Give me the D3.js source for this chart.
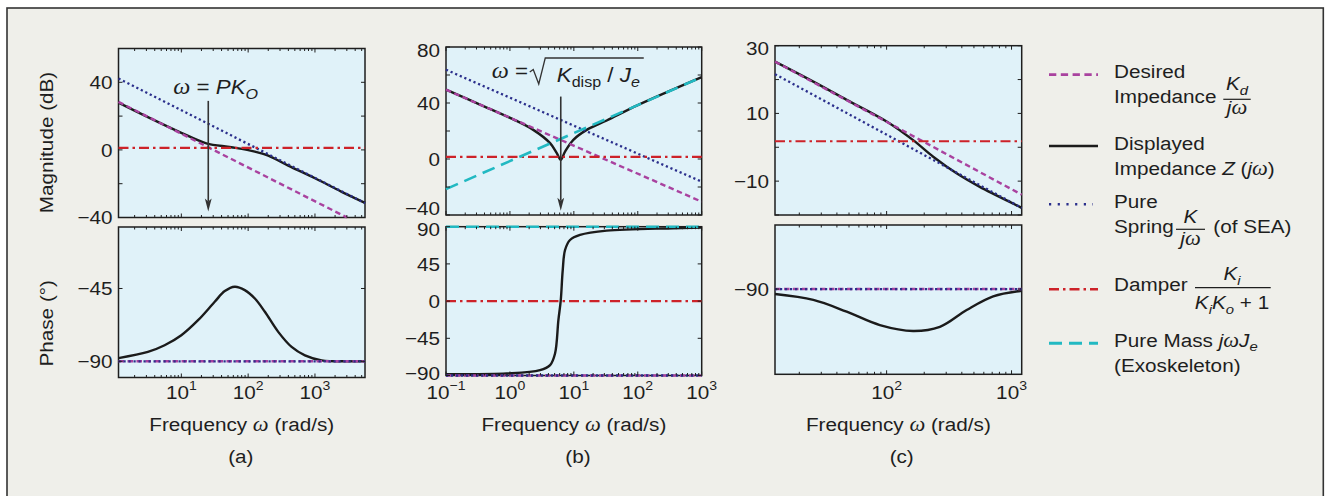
<!DOCTYPE html>
<html>
<head>
<meta charset="utf-8">
<script src="https://cdn.jsdelivr.net/npm/d3@7"></script>
<style>
  body { margin: 0; background: #fff; }
  svg { display: block; font-family: "Liberation Sans", Arial, Helvetica, sans-serif; }
</style>
</head>
<body>
<svg id="chart"></svg>
<script>
// Values: [frequency (rad/s), magnitude (dB) or phase (deg)]

// (a)
const aMagDesired   = [[1.147, 28.4], [3020, -40]];
const aMagDisplayed = [[1.147, 28.0], [3.16, 19.4], [10, 10.1], [23.7, 3.9], [56, 1.6], [126, -1.0],
                       [200, -3.4], [398, -9.3], [1000, -16.8], [2510, -24.8], [5610, -31.3]];
const aMagSpring    = [[1.147, 42.3], [5610, -31.5]];
const aMagDamper    = [[1.147, 1.2], [5610, 1.2]];
const aPhDisplayed  = [[1.147, -88.0], [3.16, -84.2], [5.62, -80.1], [10, -73.9], [17.8, -64.6], [31.6, -53.2],
                       [44.7, -46.6], [63.1, -43.9], [89.1, -46.0], [126, -51.2], [178, -59.4], [282, -71.8],
                       [447, -81.1], [708, -86.3], [1259, -89.4], [3162, -90], [5610, -90]];
const aPhDesired    = [[1.147, -90], [5610, -90]];
const aPhSpring     = [[1.147, -90], [5610, -90]];
const aPhDamper     = [[1.147, 0], [5610, 0]];
const aMagTicks = [-40, -20, 0, 20, 40, 60], aMagLabels = [-40, 0, 40];
const aPhTicks = [-90, -45], aPhLabels = [-90, -45];
const aFreqLabels = [10, 100, 1000];
const annotA = [25.3, 29, -36.5];   // ω = PK_o, arrow from / to (dB)

// (b)
const bMagDesired   = [[0.1, 49.5], [1000, -30.5]];
const bMagDisplayed = [[0.1, 49.5], [0.34, 38.9], [1.13, 28.3], [2.32, 20.8], [4.25, 11.3], [5.41, 4.2],
                       [6.24, -0.5], [7.28, 5.3], [9.82, 13.7], [15.9, 20.8], [32.7, 27.5], [100, 38.5], [1000, 58.5]];
const bMagSpring    = [[0.1, 63.8], [1000, -16.2]];
const bMagDamper    = [[0.1, 1.5], [1000, 1.5]];
const bMagMass      = [[0.1, -21.5], [1000, 58.5]];
const bPhDisplayed  = [[0.1, -88.4], [0.89, -87.6], [2.95, -83.6], [4.25, -77.5], [5.08, -63.4], [5.73, -23],
                       [6.24, 1], [6.70, 37.5], [7.28, 61.8], [8.71, 73.9], [12.5, 80], [32.7, 85.2], [363, 88.1], [1000, 89]];
const bPhDesired    = [[0.1, -90], [1000, -90]];
const bPhSpring     = [[0.1, -90], [1000, -90]];
const bPhDamper     = [[0.1, 0], [1000, 0]];
const bPhMass       = [[0.1, 90], [1000, 90]];
const bMagTicks = [-40, -20, 0, 20, 40, 60, 80], bMagLabels = [-40, 0, 40, 80];
const bPhTicks = [-90, -45, 0, 45, 90], bPhLabels = [-90, -45, 0, 45, 90];
const bFreqLabels = [0.1, 1, 10, 100, 1000];
const annotB = [6.24, 44.6, -36.9]; // ω = sqrt(Kdisp/Je)

// (c)
const cMagDesired   = [[12.78, 25.3], [1206, -14.0]];
const cMagDisplayed = [[12.78, 25.3], [25.9, 19.4], [47.9, 14.0], [100, 7.6], [163, 2.1], [236, -2.8],
                       [363, -7.7], [557, -11.7], [1164, -17.6], [1206, -17.9]];
const cMagSpring    = [[12.78, 21.6], [1206, -17.9]];
const cMagDamper    = [[12.78, 1.8], [1206, 1.8]];
const cPhDisplayed  = [[12.78, -91.8], [25.9, -93.9], [47.9, -98.1], [88.3, -102.9], [163, -105], [267, -103.5],
                       [437, -97.5], [713, -92.6], [1206, -90.6]];
const cPhDesired    = [[12.78, -90], [1206, -90]];
const cPhSpring     = [[12.78, -90], [1206, -90]];
const cPhDamper     = [[12.78, 0], [1206, 0]];
const cMagTicks = [-20, -10, 0, 10, 20, 30], cMagLabels = [-10, 10, 30];
const cPhTicks = [-90], cPhLabels = [-90];
const cFreqLabels = [100, 1000];

// line styles
const styles = {
  desired:   { color: "#a9429f", width: 2.4, dash: "5.5,3.5" },
  displayed: { color: "#1b1b1b", width: 2.4, dash: null },
  spring:    { color: "#2b2f8c", width: 2.3, dash: "2.2,2.8" },
  damper:    { color: "#cd2229", width: 2.1, dash: "10,4,2.5,4" },
  mass:      { color: "#22b9c2", width: 2.6, dash: "13,7" }
};

const W = 1334, H = 496;
const AXBG = "#e0f2f9", INK = "#1e1e1e";
const FS = 19, SX = 1.09;   // the original type is set a little wide

const svg = d3.select("#chart").attr("width", W).attr("height", H);
svg.append("rect").attr("width", W).attr("height", H).attr("fill", "#fff");
svg.append("rect").attr("x", 7).attr("y", 8).attr("width", 1316.3).attr("height", 500)
   .attr("fill", "#efefea").attr("stroke", "#333").attr("stroke-width", 1.6);

// text helpers
function label(x, y, size, rot) {
  const g = svg.append("g")
    .attr("transform", `translate(${x},${y})` + (rot ? ` rotate(${rot})` : "") + ` scale(${SX},1)`);
  return g.append("text").attr("font-size", size || FS).attr("fill", INK);
}

function rich(t, parts) {
  const base = +t.attr("font-size");
  let shift = 0;
  parts.forEach(([s, k]) => {
    const sp = t.append("tspan").text(s);
    let target = 0;
    if (k === "sub")  { target = base * 0.25; sp.attr("font-size", base * 0.72).attr("font-style", "italic"); }
    if (k === "subr") { target = base * 0.25; sp.attr("font-size", base * 0.72); }
    if (k === "sup")  { target = -base * 0.45; sp.attr("font-size", base * 0.68); }
    if (k === "i") sp.attr("font-style", "italic");
    if (k === "w") sp.attr("font-family", "'Liberation Serif', 'Times New Roman', serif")
                     .attr("font-style", "italic").attr("font-size", base * 1.08);
    if (target !== shift) { sp.attr("dy", target - shift); shift = target; }
  });
  return t;
}

const fmt = v => (v < 0 ? "\u2212" + Math.abs(v) : String(v));
const isDecade = v => Math.abs(Math.log10(v) - Math.round(Math.log10(v))) < 1e-6;

let clipN = 0;
function drawAxes(x, cfg, freqLabels) {
  const y = d3.scaleLinear().domain(cfg.dom).range(cfg.rng);
  const [x0, x1] = x.range(), [yb, yt] = cfg.rng;
  const g = svg.append("g");
  g.append("rect").attr("x", x0).attr("y", yt).attr("width", x1 - x0).attr("height", yb - yt).attr("fill", AXBG);
  g.append("rect").attr("x", x0).attr("y", yt).attr("width", x1 - x0).attr("height", yb - yt)
   .attr("fill", "none").attr("stroke", INK).attr("stroke-width", 1.5);

  const cid = "clip" + (clipN++);
  svg.append("clipPath").attr("id", cid).append("rect")
     .attr("x", x0 - 2).attr("y", yt - 2).attr("width", x1 - x0 + 4).attr("height", yb - yt + 4);

  const line = d3.line().x(d => x(d[0])).y(d => y(d[1])).curve(d3.curveCatmullRom.alpha(0.5));
  const sg = g.append("g").attr("clip-path", `url(#${cid})`);
  cfg.series.forEach(([key, data]) => {
    const s = styles[key];
    sg.append("path").attr("d", line(data)).attr("fill", "none")
      .attr("stroke", s.color).attr("stroke-width", s.width)
      .attr("stroke-dasharray", s.dash);
  });

  // ticks, inside on all four sides
  const tk = g.append("g").attr("stroke", INK).attr("stroke-width", 1);
  cfg.ticks.forEach(v => {
    const yy = y(v);
    tk.append("line").attr("x1", x0).attr("x2", x0 + 4).attr("y1", yy).attr("y2", yy);
    tk.append("line").attr("x1", x1).attr("x2", x1 - 4).attr("y1", yy).attr("y2", yy);
  });
  x.ticks().forEach(v => {
    const xx = x(v), len = isDecade(v) ? 4 : 2.5;
    tk.append("line").attr("x1", xx).attr("x2", xx).attr("y1", yt).attr("y2", yt + len);
    tk.append("line").attr("x1", xx).attr("x2", xx).attr("y1", yb).attr("y2", yb - len);
  });

  const nudge = cfg.nudge || {};
  cfg.labels.forEach(v => label(x0 - 6, y(v) + 6.8 + (nudge[v] || 0)).attr("text-anchor", "end").text(fmt(v)));

  if (freqLabels) {
    freqLabels.forEach(v => {
      rich(label(x(v), 399).attr("text-anchor", "middle"),
           [["10", ""], [fmt(Math.round(Math.log10(v))), "sup"]]);
    });
  }
  return y;
}

function arrow(x, y1, y2) {
  svg.append("line").attr("x1", x).attr("x2", x).attr("y1", y1).attr("y2", y2 - 10)
     .attr("stroke", "#333").attr("stroke-width", 1.6);
  svg.append("path").attr("d", `M${x},${y2} L${x - 3.4},${y2 - 13} L${x},${y2 - 10} L${x + 3.4},${y2 - 13} Z`)
     .attr("fill", "#333");
}

const panels = [
  { w: [1.147, 5610], xr: [118.5, 365], tagX: 240.8, tag: "(a)", freq: aFreqLabels,
    mag: { dom: [-40, 60], rng: [217.5, 48.5], ticks: aMagTicks, labels: aMagLabels,
           series: [["displayed", aMagDisplayed], ["desired", aMagDesired], ["spring", aMagSpring], ["damper", aMagDamper]] },
    ph:  { dom: [-100, -7], rng: [377.5, 227], ticks: aPhTicks, labels: aPhLabels,
           series: [["displayed", aPhDisplayed], ["desired", aPhDesired], ["spring", aPhSpring], ["damper", aPhDamper]] } },
  { w: [0.1, 1000], xr: [446, 701.7], tagX: 578, tag: "(b)", freq: bFreqLabels,
    mag: { dom: [-40, 80], rng: [215, 47], ticks: bMagTicks, labels: bMagLabels, nudge: { 80: 3.5, "-40": -6.5 },
           series: [["displayed", bMagDisplayed], ["desired", bMagDesired], ["spring", bMagSpring], ["damper", bMagDamper], ["mass", bMagMass]] },
    ph:  { dom: [-90, 90], rng: [375.5, 226.7], ticks: bPhTicks, labels: bPhLabels, nudge: { 90: 2.5, "-90": -2.5 },
           series: [["displayed", bPhDisplayed], ["desired", bPhDesired], ["spring", bPhSpring], ["damper", bPhDamper], ["mass", bPhMass]] } },
  { w: [12.78, 1206], xr: [775, 1021.7], tagX: 901.7, tag: "(c)", freq: cFreqLabels,
    mag: { dom: [-20, 30], rng: [215, 45.7], ticks: cMagTicks, labels: cMagLabels, nudge: { 30: 2.5 },
           series: [["displayed", cMagDisplayed], ["desired", cMagDesired], ["spring", cMagSpring], ["damper", cMagDamper]] },
    ph:  { dom: [-120.5, -67.1], rng: [374.3, 225], ticks: cPhTicks, labels: cPhLabels,
           series: [["displayed", cPhDisplayed], ["desired", cPhDesired], ["spring", cPhSpring], ["damper", cPhDamper]] } }
];

const scales = panels.map(p => {
  const x = d3.scaleLog().domain(p.w).range(p.xr);
  const yM = drawAxes(x, p.mag, null);
  drawAxes(x, p.ph, p.freq);
  const cx = (p.xr[0] + p.xr[1]) / 2;
  rich(label(cx, 430.7).attr("text-anchor", "middle"), [["Frequency ", ""], ["\u03c9", "w"], [" (rad/s)", ""]]);
  label(p.tagX, 463).attr("text-anchor", "middle").text(p.tag);
  return { x, yM };
});

// y-axis titles (left panel only)
label(53.3, 142.5, FS, -90).attr("text-anchor", "middle").text("Magnitude (dB)");
label(53.3, 323.3, FS, -90).attr("text-anchor", "middle").text("Phase (\u00b0)");

// annotation (a)
{
  const { x, yM } = scales[0];
  const ax = x(annotA[0]);
  arrow(ax, yM(annotA[1]), yM(annotA[2]));
  rich(label(ax - 35, 94.3, 20.5), [["\u03c9", "w"], [" = ", ""], ["PK", "i"], ["O", "sub"]]);
}
// annotation (b)
{
  const { x, yM } = scales[1];
  const ax = x(annotB[0]);
  arrow(ax, yM(annotB[1]), yM(annotB[2]));
  rich(label(ax - 69, 78, 20.5), [["\u03c9", "w"], [" =", ""]]);
  svg.append("path")
     .attr("d", `M${ax - 31},72 L${ax - 27.5},69.5 L${ax - 22},84 L${ax - 15.5},58 L${ax + 83},58`)
     .attr("fill", "none").attr("stroke", "#333").attr("stroke-width", 1.3);
  rich(label(ax - 4, 82, 20.5), [["K", "i"], ["disp", "subr"], [" / ", ""], ["J", "i"], ["e", "sub"]]);
}

// legend
const legRows = [["desired", 74.7], ["displayed", 146], ["spring", 204.3], ["damper", 289.3], ["mass", 343.3]];
legRows.forEach(([key, yy]) => {
  const s = styles[key];
  svg.append("line").attr("x1", 1049).attr("x2", key === "spring" ? 1093 : 1098).attr("y1", yy).attr("y2", yy)
     .attr("stroke", s.color).attr("stroke-width", s.width + 0.3)
     .attr("stroke-dasharray", key === "spring" ? "2.2,6.5" : key === "desired" ? "7.3,4.5" : s.dash);
});

function frac(cx, numY, barY, denY, bx1, bx2, num, den) {
  rich(label(cx, numY).attr("text-anchor", "middle"), num);
  svg.append("line").attr("x1", bx1).attr("x2", bx2).attr("y1", barY).attr("y2", barY)
     .attr("stroke", INK).attr("stroke-width", 1.2);
  rich(label(cx, denY).attr("text-anchor", "middle"), den);
}

label(1114, 77.7).text("Desired");
label(1114, 103.3).text("Impedance");
frac(1237, 90, 99.3, 114, 1223.3, 1250.7, [["K", "i"], ["d", "sub"]], [["j", "i"], ["\u03c9", "w"]]);

label(1114, 150).text("Displayed");
rich(label(1114, 175), [["Impedance ", ""], ["Z", "i"], [" (", ""], ["j", "i"], ["\u03c9", "w"], [")", ""]]);

label(1114, 208.3).text("Pure");
label(1114, 233.3).text("Spring");
frac(1190.5, 222.7, 229.3, 245, 1176, 1205, [["K", "i"]], [["j", "i"], ["\u03c9", "w"]]);
label(1213.3, 233.3).text("(of SEA)");

label(1114, 290.7).text("Damper");
frac(1232, 280, 287.7, 309.3, 1195, 1270.7,
     [["K", "i"], ["i", "sub"]],
     [["K", "i"], ["i", "sub"], ["K", "i"], ["o", "sub"], [" + 1", ""]]);

rich(label(1114, 346.7), [["Pure Mass ", ""], ["j", "i"], ["\u03c9", "w"], ["J", "i"], ["e", "sub"]]);
label(1114, 371.7).text("(Exoskeleton)");
</script>
</body>
</html>
